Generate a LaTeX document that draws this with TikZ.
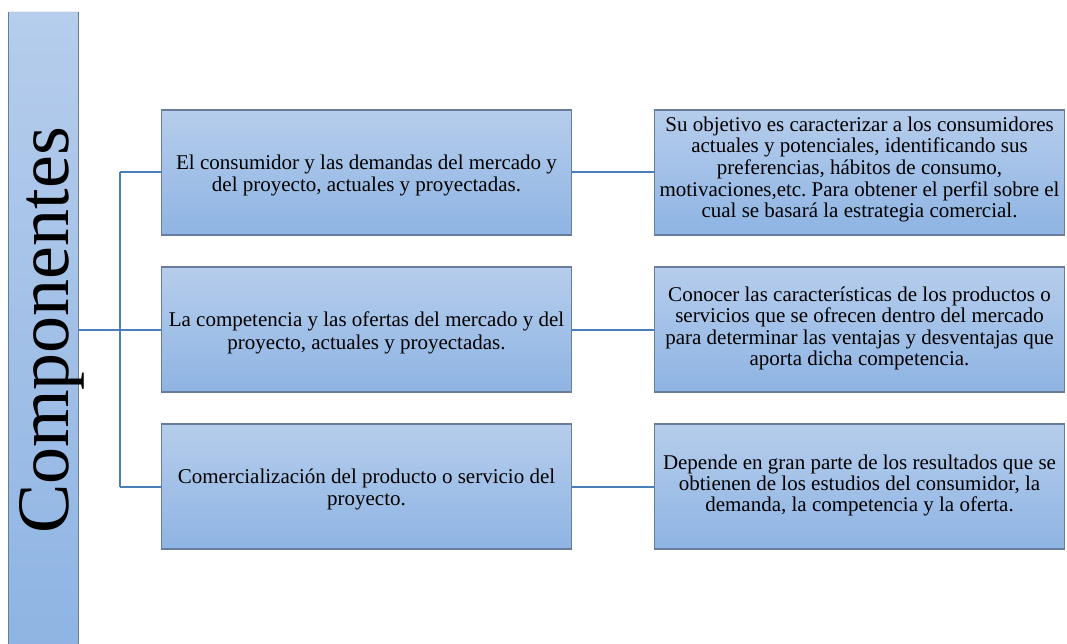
\documentclass[tikz,border=0pt]{standalone}
\usepackage{fontspec}
\setmainfont{Liberation Serif}
\frenchspacing
\definecolor{boxtop}{RGB}{182,205,236}
\definecolor{boxbot}{RGB}{142,180,227}
\definecolor{boxedge}{RGB}{105,125,155}
\definecolor{linkblue}{RGB}{74,126,187}
\tikzset{
  box/.style={draw=boxedge, line width=1.1pt, top color=boxtop, bottom color=boxbot,
    minimum width=410pt, minimum height=125pt, inner sep=0pt},
  boxtext/.style={align=center, inner sep=0pt, font=\fontsize{21}{22.8}\selectfont},
  rtext/.style={boxtext, font=\fontsize{21}{21.3}\selectfont},
  bar/.style={top color=boxtop, bottom color=boxbot, draw=none,
    minimum width=69pt, minimum height=640pt, inner sep=0pt},
  link/.style={draw=linkblue, line width=2pt}
}
\begin{document}
\begin{tikzpicture}[x=1pt,y=-1pt]
\useasboundingbox (0,0) rectangle (1067,644);
% left bar
\node[bar] (comp) at (43.5,332) {};
\draw[boxedge, line width=1.1pt] (comp.south west) -- (comp.north west);
\draw[boxedge, line width=1.1pt] (comp.south east) -- (comp.north east);
\draw[white!85!boxedge, line width=1.1pt] (comp.north west) -- (comp.north east);
\node[rotate=90, anchor=base, inner sep=0pt, font=\fontsize{74}{74}\selectfont] (title) at (68,330.5) {Componentes};
% middle boxes
\node[box] (m1) at (366.5,172.5) {};
\node[box] (m2) at (366.5,329.5) {};
\node[box] (m3) at (366.5,486.5) {};
\node[boxtext] (m1t) at ([yshift=-3pt]m1.center) {El consumidor y las demandas del mercado y\\del proyecto, actuales y proyectadas.};
\node[boxtext] (m2t) at ([yshift=-3pt]m2.center) {La competencia y las ofertas del mercado y del\\proyecto, actuales y proyectadas.};
\node[boxtext] (m3t) at ([yshift=-3pt]m3.center) {Comercialización del producto o servicio del\\proyecto.};
% right boxes
\node[box] (r1) at (859.5,172.5) {};
\node[box] (r2) at (859.5,329.5) {};
\node[box] (r3) at (859.5,486.5) {};
\node[rtext, font=\fontsize{21}{21.7}\selectfont] (r1t) at ([yshift=3pt]r1.center) {Su objetivo es caracterizar a los consumidores\\actuales y potenciales, identificando sus\\preferencias, hábitos de consumo,\\motivaciones,etc. Para obtener el perfil sobre el\\cual se basará la estrategia comercial.};
\node[rtext] (r2t) at ([yshift=1pt]r2.center) {Conocer las características de los productos o\\servicios que se ofrecen dentro del mercado\\para determinar las ventajas y desventajas que\\aporta dicha competencia.};
\node[rtext] (r3t) at ([yshift=1pt]r3.center) {Depende en gran parte de los resultados que se\\obtienen de los estudios del consumidor, la\\demanda, la competencia y la oferta.};
% connectors
\coordinate (j) at (120,329.5);
\draw[link] (comp.east |- m2.west) -- (m2.west);
\draw[link] (j |- m1.west) -- (j |- m3.west);
\draw[link] (j |- m1.west) -- (m1.west);
\draw[link] (j |- m3.west) -- (m3.west);
\draw[link] (m1.east) -- (r1.west);
\draw[link] (m2.east) -- (r2.west);
\draw[link] (m3.east) -- (r3.west);
\end{tikzpicture}
\end{document}
